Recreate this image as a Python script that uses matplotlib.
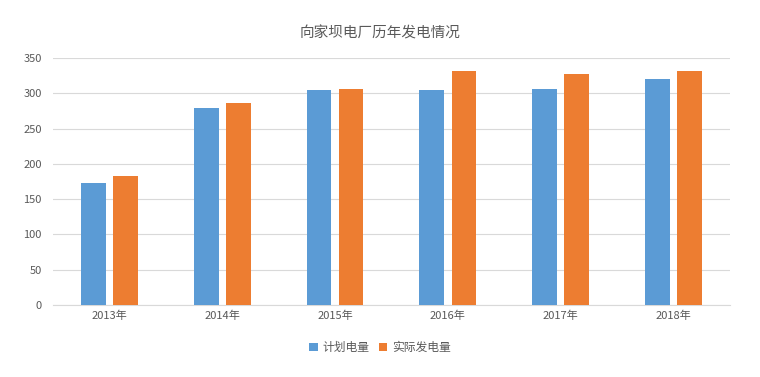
import matplotlib
matplotlib.use('Agg')
import matplotlib.pyplot as plt
import numpy as np

plt.rcParams['font.family'] = ['Noto Sans CJK SC', 'DejaVu Sans']

# --- 数据 ---
years = ['2013年', '2014年', '2015年', '2016年', '2017年', '2018年']
plan = [173, 279, 305, 305, 306, 320]
actual = [183, 286, 306, 332, 328, 331]

BLUE = '#5B9BD5'
ORANGE = '#ED7D31'
GRAY = '#595959'

fig = plt.figure(figsize=(7.6, 3.77), dpi=100)
ax = fig.add_axes([0.0697, 0.191, 0.8908, 0.655])

x = np.arange(len(years))
w = 0.22
ax.bar(x - 0.142, plan, w, color=BLUE, label='计划电量', zorder=3)
ax.bar(x + 0.142, actual, w, color=ORANGE, label='实际发电量', zorder=3)

ax.set_xlim(-0.5, len(years) - 0.5)
ax.set_ylim(0, 350)
ax.set_yticks(range(0, 351, 50))
ax.set_xticks(x)
ax.set_xticklabels(years)
ax.tick_params(axis='both', length=0, labelsize=8, colors=GRAY)
ax.tick_params(axis='y', pad=8)
ax.tick_params(axis='x', pad=4)
ax.grid(axis='y', color='#D9D9D9', lw=0.8, zorder=0)
for s in ['top', 'right', 'left']:
    ax.spines[s].set_visible(False)
ax.spines['bottom'].set_color('#D9D9D9')

fig.text(0.5, 0.912, '向家坝电厂历年发电情况', ha='center', va='center',
         fontsize=10.5, color=GRAY)

fig.legend(loc='center', bbox_to_anchor=(0.5, 0.078), ncol=2, frameon=False,
           fontsize=8.5, handlelength=0.7, handleheight=0.7, handletextpad=0.4,
           columnspacing=0.8, labelcolor=GRAY)

fig.savefig('out.png', dpi=100)
